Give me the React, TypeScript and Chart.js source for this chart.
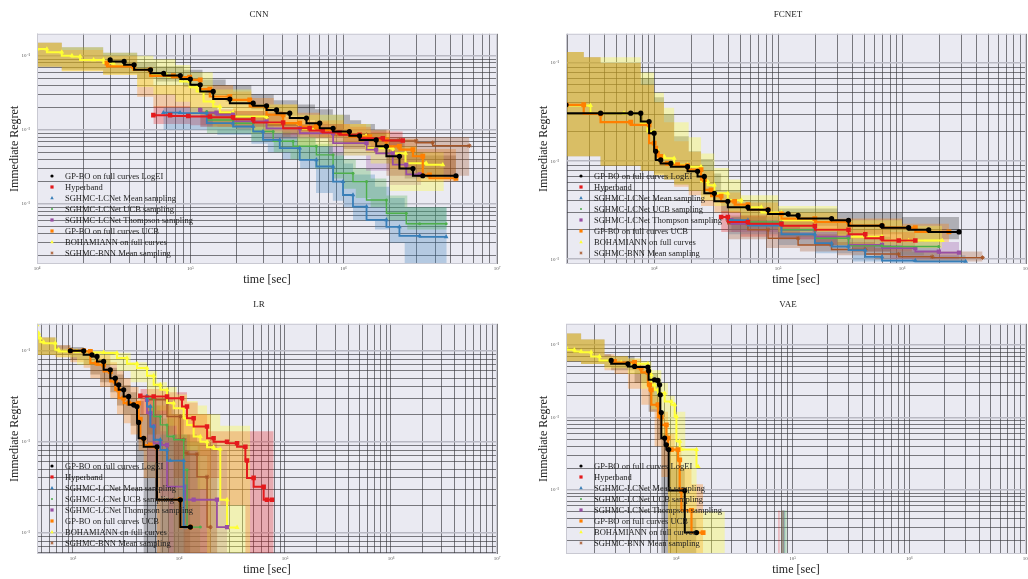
import React, { useEffect, useRef } from 'react';
import { Chart, registerables } from 'chart.js';

Chart.register(...registerables);

const FONT = '"Liberation Serif", "Times New Roman", serif';

const SERIES_LABELS = [
  'GP-BO on full curves LogEI',
  'Hyperband',
  'SGHMC-LCNet Mean sampling',
  'SGHMC-LCNet UCB sampling',
  'SGHMC-LCNet Thompson sampling',
  'GP-BO on full curves UCB',
  'BOHAMIANN on full curves',
  'SGHMC-BNN Mean sampling',
];
const SERIES_COLORS = ['#000000', '#e41a1c', '#377eb8', '#4daf4a', '#984ea3', '#ff7f00', '#ffff33', '#a65628'];
const SERIES_MARKERS = ['circle', 'rect', 'triangle', 'circle', 'rect', 'rect', 'triangle', 'star'];
const SERIES_RADII = [2.6, 3.2, 2.7, 1.5, 3.0, 3.4, 2.9, 2.2];
const LINE_WIDTHS = [2, 2, 1.8, 1.4, 1.8, 2.2, 2, 1.4];
const BAND_ALPHA = [0.25, 0.3, 0.3, 0.3, 0.3, 0.3, 0.32, 0.3];

type Run = { t: number[]; y: number[]; bt: number[]; lo: number[]; hi: number[] };

// ---------------- CNN ----------------
const CNN_LOGEI: Run = {
  t: [3.0e4, 3.7e4, 4.3e4, 5.5e4, 6.7e4, 8.6e4, 1.0e5, 1.16e5, 1.41e5, 1.81e5, 2.57e5, 3.14e5, 3.65e5, 4.45e5, 5.72e5, 6.98e5, 8.53e5, 1.09e6, 1.27e6, 1.63e6, 1.9e6, 2.31e6, 2.83e6, 3.28e6, 5.4e6],
  y: [0.088, 0.084, 0.0755, 0.0647, 0.058, 0.054, 0.0484, 0.0406, 0.033, 0.026, 0.0229, 0.0211, 0.0186, 0.0168, 0.0144, 0.0123, 0.0105, 0.0095, 0.0083, 0.0073, 0.006, 0.0044, 0.003, 0.0024, 0.0024],
  bt: [1e4, 1.45e4, 2.7e4, 4.5e4, 6e4, 9e4, 1.2e5, 1.7e5, 2.5e5, 3.5e5, 5e5, 6.5e5, 8.5e5, 1.1e6, 1.3e6, 1.6e6, 1.9e6, 2.5e6, 3.3e6, 5.4e6],
  hi: [0.168, 0.15, 0.13, 0.11, 0.08, 0.072, 0.065, 0.048, 0.04, 0.03, 0.025, 0.022, 0.019, 0.016, 0.0135, 0.012, 0.01, 0.0075, 0.005, 0.0045],
  lo: [0.083, 0.071, 0.065, 0.057, 0.05, 0.045, 0.038, 0.03, 0.024, 0.019, 0.0155, 0.0135, 0.0115, 0.0095, 0.0082, 0.007, 0.0058, 0.0035, 0.0022, 0.0022],
};
const CNN_HB: Run = {
  t: [5.74e4, 7.38e4, 9.7e4, 1.34e5, 1.9e5, 2.57e5, 4.03e5, 6.0e5, 7.3e5, 9.4e5, 1.27e6, 1.8e6, 2.43e6],
  y: [0.0158, 0.0158, 0.0154, 0.0151, 0.0148, 0.0139, 0.0126, 0.0105, 0.0098, 0.0092, 0.0086, 0.0077, 0.0072],
  bt: [5.74e4, 1e5, 1.5e5, 2e5, 3e5, 4e5, 6e5, 8e5, 1.1e6, 1.5e6, 2.43e6],
  hi: [0.021, 0.021, 0.02, 0.019, 0.018, 0.017, 0.015, 0.013, 0.012, 0.011, 0.0095],
  lo: [0.012, 0.012, 0.0115, 0.011, 0.0102, 0.0095, 0.0085, 0.0078, 0.007, 0.0065, 0.006],
};
const CNN_MEAN: Run = {
  t: [6.67e4, 8.57e4, 1.28e5, 1.9e5, 2.57e5, 2.98e5, 3.83e5, 5.17e5, 6.64e5, 8.53e5, 9.9e5, 1.15e6, 1.41e6, 1.9e6, 2.31e6, 3.13e6, 4.66e6],
  y: [0.0171, 0.0171, 0.0168, 0.0123, 0.0111, 0.0095, 0.0073, 0.00565, 0.00394, 0.0032, 0.002, 0.00132, 0.00092, 0.00061, 0.00049, 0.00037, 0.00036],
  bt: [6.67e4, 1.5e5, 2.5e5, 3.2e5, 4e5, 5.2e5, 6.6e5, 8.5e5, 1.0e6, 1.15e6, 1.6e6, 2.0e6, 2.5e6, 3.0e6, 4.7e6],
  hi: [0.023, 0.02, 0.016, 0.013, 0.011, 0.0095, 0.008, 0.006, 0.0045, 0.0035, 0.0025, 0.0017, 0.0012, 0.0009, 0.0009],
  lo: [0.013, 0.01, 0.0085, 0.0065, 0.005, 0.004, 0.003, 0.0014, 0.0011, 0.0009, 0.0006, 0.00045, 0.0003, 0.0001, 0.0001],
};
const CNN_UCB: Run = {
  t: [1.28e5, 1.9e5, 2.57e5, 3.47e5, 4.68e5, 6.64e5, 8.53e5, 1.15e6, 1.41e6, 1.9e6, 2.56e6, 3.13e6, 4.66e6],
  y: [0.0177, 0.0136, 0.0123, 0.0095, 0.007, 0.006, 0.0046, 0.0026, 0.002, 0.00113, 0.00075, 0.00054, 0.00054],
  bt: [1.28e5, 2.5e5, 3.5e5, 4.5e5, 6.5e5, 8.5e5, 1.0e6, 1.2e6, 1.5e6, 1.9e6, 2.6e6, 3.2e6, 4.7e6],
  hi: [0.022, 0.016, 0.012, 0.0095, 0.008, 0.0065, 0.005, 0.004, 0.003, 0.0022, 0.0013, 0.0009, 0.0009],
  lo: [0.014, 0.009, 0.007, 0.005, 0.004, 0.003, 0.0022, 0.0016, 0.0012, 0.0009, 0.0006, 0.00045, 0.00045],
};
const CNN_TS: Run = {
  t: [1.16e5, 1.48e5, 1.9e5, 3.14e5, 5.17e5, 8.53e5, 1.41e6, 1.63e6, 2.09e6, 2.56e6, 3.13e6],
  y: [0.0186, 0.0171, 0.016, 0.013, 0.0105, 0.009, 0.0066, 0.0054, 0.0048, 0.0034, 0.0025],
  bt: [1.16e5, 3e5, 8e5, 1.4e6, 2e6, 3.2e6],
  hi: [0.02, 0.016, 0.0115, 0.0085, 0.006, 0.0045],
  lo: [0.014, 0.011, 0.0075, 0.0045, 0.0028, 0.0018],
};
const CNN_UCBGP: Run = {
  t: [2.86e4, 4.26e4, 5.47e4, 7.74e4, 9.9e4, 1.16e5, 1.34e5, 1.81e5, 2.44e5, 3.14e5, 4.03e5, 5.17e5, 6.64e5, 8.53e5, 1.09e6, 1.48e6, 1.9e6, 2.31e6, 2.83e6, 3.28e6, 3.63e6, 5.4e6],
  y: [0.0796, 0.0718, 0.0647, 0.0537, 0.0515, 0.0474, 0.0355, 0.0282, 0.0254, 0.0207, 0.016, 0.0123, 0.0111, 0.01, 0.009, 0.0081, 0.0073, 0.006, 0.0054, 0.0044, 0.00247, 0.00222],
  bt: [1e4, 1.45e4, 2.7e4, 4.5e4, 5.74e4, 1.9e5, 2.5e5, 3.5e5, 5e5, 7e5, 1e6, 1.4e6, 2e6, 3e6, 4e6, 5.4e6],
  hi: [0.168, 0.15, 0.12, 0.1, 0.062, 0.04, 0.033, 0.027, 0.022, 0.017, 0.0135, 0.012, 0.01, 0.0075, 0.0055, 0.0055],
  lo: [0.083, 0.071, 0.062, 0.055, 0.028, 0.02, 0.016, 0.013, 0.011, 0.0095, 0.008, 0.0065, 0.005, 0.003, 0.002, 0.002],
};
const CNN_BOH: Run = {
  t: [1.0e4, 1.16e4, 1.45e4, 1.69e4, 1.91e4, 2.34e4, 2.71e4, 3.15e4, 4.26e4, 5.47e4, 7.0e4, 8.57e4, 9.9e4, 1.1e5, 1.22e5, 1.41e5, 1.56e5, 1.9e5, 3.14e5, 5.1e5, 8.5e5, 1.09e6, 1.4e6, 2.09e6, 2.53e6, 3.45e6, 4.43e6],
  y: [0.123, 0.123, 0.112, 0.1, 0.098, 0.088, 0.088, 0.0796, 0.0733, 0.0647, 0.0553, 0.0525, 0.045, 0.0377, 0.033, 0.0241, 0.0207, 0.0173, 0.0151, 0.0123, 0.0102, 0.009, 0.0083, 0.00565, 0.00484, 0.00355, 0.00337],
  bt: [1e4, 1.45e4, 2.7e4, 4.5e4, 5.74e4, 8e4, 1.0e5, 1.4e5, 2.5e5, 5e5, 1e6, 1.5e6, 2e6, 3e6, 4.5e6],
  hi: [0.168, 0.15, 0.13, 0.11, 0.1, 0.09, 0.075, 0.06, 0.035, 0.022, 0.016, 0.012, 0.009, 0.006, 0.005],
  lo: [0.083, 0.071, 0.062, 0.055, 0.038, 0.03, 0.024, 0.016, 0.011, 0.009, 0.006, 0.0045, 0.0035, 0.0015, 0.0015],
};
const CNN_BNN: Run = {
  t: [1.16e5, 1.9e5, 3.14e5, 5.17e5, 8.53e5, 1.41e6, 2.31e6, 2.97e6, 3.81e6, 6.6e6],
  y: [0.0186, 0.0168, 0.0151, 0.0117, 0.01, 0.0086, 0.0073, 0.0071, 0.0067, 0.0061],
  bt: [1.16e5, 4e5, 1e6, 1.9e6, 2.31e6, 6.6e6],
  hi: [0.023, 0.018, 0.012, 0.009, 0.008, 0.008],
  lo: [0.015, 0.011, 0.008, 0.0055, 0.0024, 0.0024],
};

// ---------------- FCNET ----------------
const FC_LOGEI: Run = {
  t: [1945, 3697, 6471, 7798, 9107, 1e4, 1.03e4, 1.13e4, 1.365e4, 1.86e4, 2.24e4, 2.54e4, 3.06e4, 3.93e4, 5.71e4, 8.3e4, 1.205e5, 1.45e5, 2.7e5, 3.7e5, 6.89e5, 1.13e6, 1.64e6, 2.88e6],
  y: [0.0376, 0.0309, 0.0309, 0.0309, 0.0254, 0.0193, 0.0126, 0.0103, 0.0095, 0.0088, 0.0079, 0.007, 0.0047, 0.0039, 0.0034, 0.0032, 0.0029, 0.0028, 0.0026, 0.0025, 0.0022, 0.0021, 0.002, 0.0019],
  bt: [1945, 2704, 3697, 7798, 1e4, 1.2e4, 1.45e4, 1.9e4, 2.39e4, 3.0e4, 3.47e4, 5e4, 1e5, 3e5, 1e6, 2.88e6],
  hi: [0.15, 0.13, 0.115, 0.1, 0.07, 0.045, 0.03, 0.018, 0.0126, 0.0105, 0.0075, 0.005, 0.004, 0.0033, 0.003, 0.0027],
  lo: [0.017, 0.0112, 0.0112, 0.009, 0.008, 0.0075, 0.0065, 0.0058, 0.005, 0.0045, 0.004, 0.003, 0.0025, 0.0022, 0.0018, 0.0016],
};
const FC_HB: Run = {
  t: [3.47e4, 3.93e4, 5.71e4, 1.064e5, 1.98e5, 3.7e5, 5.05e5, 6.89e5, 9.4e5, 1.28e6],
  y: [0.0027, 0.0027, 0.0024, 0.0023, 0.0022, 0.002, 0.0018, 0.00164, 0.00155, 0.00155],
  bt: [3.47e4, 5e4, 1e5, 2e5, 4e5, 8e5, 1.28e6],
  hi: [0.0034, 0.0031, 0.0028, 0.0026, 0.0024, 0.002, 0.0019],
  lo: [0.002, 0.0019, 0.0017, 0.0016, 0.0014, 0.0012, 0.0012],
};
const FC_MEAN: Run = {
  t: [3.93e4, 5.71e4, 1.064e5, 1.98e5, 2.7e5, 3.7e5, 5.05e5, 6.89e5, 1.28e6, 3.26e6],
  y: [0.0026, 0.0025, 0.0022, 0.0018, 0.00146, 0.00135, 0.00124, 0.00106, 0.00097, 0.00095],
  bt: [3.93e4, 1e5, 2e5, 4e5, 8e5, 1.5e6, 3.26e6],
  hi: [0.003, 0.0026, 0.0022, 0.0017, 0.0014, 0.0012, 0.0011],
  lo: [0.0022, 0.0018, 0.0014, 0.00115, 0.00095, 0.0009, 0.0009],
};
const FC_UCB: Run = {
  t: [4.19e4, 1.064e5, 1.98e5, 3.7e5, 6.89e5, 1.98e6],
  y: [0.0025, 0.0024, 0.002, 0.00164, 0.00137, 0.00135],
  bt: [4.19e4, 1e5, 2e5, 4e5, 8e5, 1.98e6],
  hi: [0.003, 0.0027, 0.0024, 0.002, 0.0017, 0.0016],
  lo: [0.0021, 0.002, 0.0017, 0.0014, 0.0012, 0.0011],
};
const FC_TS: Run = {
  t: [4.19e4, 1.064e5, 1.98e5, 3.7e5, 6.89e5, 1.28e6, 1.98e6, 2.88e6],
  y: [0.0025, 0.0023, 0.002, 0.0017, 0.0014, 0.0013, 0.0012, 0.00117],
  bt: [4.19e4, 1e5, 2e5, 4e5, 8e5, 1.5e6, 2.88e6],
  hi: [0.003, 0.0027, 0.0024, 0.002, 0.0017, 0.0016, 0.0015],
  lo: [0.0021, 0.0019, 0.0016, 0.0014, 0.0012, 0.001, 0.001],
};
const FC_UCBGP: Run = {
  t: [1945, 2704, 3697, 6471, 9107, 1e4, 1.03e4, 1.064e4, 1.13e4, 1.28e4, 1.545e4, 1.86e4, 2.39e4, 2.54e4, 2.88e4, 3.47e4, 4.46e4, 5.71e4, 8.3e4, 1.064e5, 1.98e5, 3.7e5, 6.89e5, 1.28e6, 2.39e6],
  y: [0.0376, 0.0376, 0.0304, 0.025, 0.0235, 0.0153, 0.0136, 0.0121, 0.0112, 0.0095, 0.0092, 0.009, 0.0082, 0.0065, 0.0051, 0.0044, 0.0039, 0.0036, 0.0032, 0.0029, 0.0026, 0.0024, 0.0022, 0.0021, 0.0019],
  bt: [1945, 2704, 3697, 7798, 1e4, 1.2e4, 1.45e4, 1.9e4, 2.39e4, 3.06e4, 5e4, 1e5, 3e5, 1e6, 2.39e6],
  hi: [0.15, 0.13, 0.115, 0.1, 0.06, 0.04, 0.025, 0.016, 0.0125, 0.008, 0.0048, 0.0038, 0.003, 0.0026, 0.0023],
  lo: [0.017, 0.0112, 0.0112, 0.009, 0.008, 0.0072, 0.0065, 0.0055, 0.0045, 0.0035, 0.003, 0.0024, 0.002, 0.0016, 0.0015],
};
const FC_BOH: Run = {
  t: [1945, 3062, 3697, 5714, 7798, 8830, 1e4, 1.064e4, 1.205e4, 1.45e4, 1.86e4, 2.39e4, 2.71e4, 3.06e4, 3.93e4, 5.05e4, 7.33e4, 1.064e5, 1.98e5, 3.7e5, 6.89e5, 1.13e6, 2.11e6],
  y: [0.0376, 0.037, 0.0309, 0.0309, 0.0309, 0.0244, 0.0201, 0.0131, 0.0112, 0.0107, 0.0092, 0.0088, 0.0062, 0.0057, 0.0047, 0.004, 0.0034, 0.003, 0.0025, 0.002, 0.0017, 0.00155, 0.00155],
  bt: [1945, 2704, 3697, 7798, 1e4, 1.2e4, 1.45e4, 1.9e4, 2.39e4, 3.06e4, 4e4, 5e4, 1e5, 3e5, 1e6, 2.11e6],
  hi: [0.15, 0.13, 0.115, 0.115, 0.08, 0.05, 0.035, 0.025, 0.0175, 0.012, 0.0085, 0.0065, 0.0045, 0.0035, 0.0025, 0.0022],
  lo: [0.0172, 0.0112, 0.0112, 0.009, 0.008, 0.0072, 0.0065, 0.0058, 0.005, 0.004, 0.0035, 0.003, 0.0025, 0.0019, 0.0014, 0.0013],
};
const FC_BNN: Run = {
  t: [3.93e4, 5.71e4, 8.3e4, 1.45e5, 2.7e5, 5.05e5, 9.4e5, 1.75e6, 4.46e6],
  y: [0.0025, 0.0023, 0.002, 0.00164, 0.0014, 0.00126, 0.00113, 0.00106, 0.00104],
  bt: [3.93e4, 8e4, 1.5e5, 3e5, 6e5, 1.2e6, 2e6, 4.46e6],
  hi: [0.0034, 0.0028, 0.0022, 0.0018, 0.0015, 0.0013, 0.0012, 0.0012],
  lo: [0.0019, 0.0016, 0.0013, 0.0012, 0.0011, 0.001, 0.00095, 0.00095],
};

// ---------------- LR ----------------
const LR_LOGEI: Run = {
  t: [944, 1261, 1511, 1684, 1945, 2249, 2506, 2697, 3007, 3350, 3735, 4016, 4160, 4645, 6200, 1.03e4, 1.28e4],
  y: [0.1, 0.1, 0.0904, 0.0866, 0.0763, 0.0618, 0.05, 0.0422, 0.0372, 0.0315, 0.0255, 0.0244, 0.0163, 0.0109, 0.0088, 0.0023, 0.00115],
  bt: [457, 681, 944, 1261, 1459, 1800, 2249, 2600, 3007, 3500, 4016, 4645, 6200, 8500, 1.28e4],
  hi: [0.198, 0.14, 0.115, 0.11, 0.1, 0.09, 0.08, 0.065, 0.055, 0.042, 0.035, 0.028, 0.02, 0.012, 0.012],
  lo: [0.095, 0.09, 0.09, 0.08, 0.07, 0.055, 0.045, 0.035, 0.025, 0.02, 0.015, 0.006, 0.0002, 0.0002, 0.0002],
};
const LR_HB: Run = {
  t: [4315, 5770, 7710, 1.067e4, 1.19e4, 1.375e4, 1.84e4, 2.12e4, 2.84e4, 3.53e4, 4.23e4, 4.38e4, 5.06e4, 6.29e4, 6.76e4, 7.54e4],
  y: [0.032, 0.0315, 0.0315, 0.0301, 0.0244, 0.0181, 0.0147, 0.0109, 0.01, 0.0096, 0.0088, 0.0062, 0.004, 0.0032, 0.0023, 0.0023],
  bt: [4315, 7710, 1.19e4, 1.5e4, 1.84e4, 2.45e4, 4.23e4, 6.29e4, 7.82e4],
  hi: [0.04, 0.038, 0.035, 0.027, 0.02, 0.013, 0.013, 0.013, 0.013],
  lo: [0.022, 0.02, 0.012, 0.009, 0.007, 0.004, 0.002, 0.0002, 0.0002],
};
const LR_MEAN: Run = {
  t: [4989, 5370, 5770, 6670, 7710, 8280, 1.107e4, 1.148e4],
  y: [0.0315, 0.0244, 0.0147, 0.0105, 0.0081, 0.0062, 0.0062, 0.00115],
  bt: [4989, 6670, 8280, 1.148e4],
  hi: [0.034, 0.02, 0.012, 0.012],
  lo: [0.02, 0.004, 0.0002, 0.0002],
};
const LR_UCB: Run = {
  t: [4989, 5770, 6670, 7710, 8910, 1.107e4, 1.19e4, 1.59e4],
  y: [0.0315, 0.0301, 0.0189, 0.0153, 0.0114, 0.0105, 0.0049, 0.00115],
  bt: [4989, 6670, 8910, 1.19e4, 1.59e4],
  hi: [0.034, 0.025, 0.018, 0.012, 0.01],
  lo: [0.025, 0.012, 0.006, 0.0002, 0.0002],
};
const LR_TS: Run = {
  t: [4989, 5370, 5770, 6670, 7710, 1.148e4, 1.375e4, 2.28e4, 2.84e4],
  y: [0.0289, 0.0206, 0.0147, 0.0096, 0.0092, 0.0032, 0.0023, 0.0023, 0.00115],
  bt: [4989, 6670, 8000, 1.148e4, 2.28e4, 2.84e4],
  hi: [0.035, 0.02, 0.013, 0.011, 0.008, 0.008],
  lo: [0.02, 0.006, 0.0025, 0.0002, 0.0002, 0.0002],
};
const LR_UCBGP: Run = {
  t: [944, 1261, 1459, 1684, 1945, 2249, 2506, 2697, 3007, 3350, 4160, 4315, 4645, 5370, 6200, 1.03e4, 1.28e4],
  y: [0.1, 0.1, 0.0984, 0.0732, 0.0702, 0.0592, 0.046, 0.0372, 0.0301, 0.0266, 0.0266, 0.0177, 0.0109, 0.0092, 0.0087, 0.0023, 0.00115],
  bt: [457, 681, 944, 1261, 1459, 1800, 2249, 2600, 3007, 3500, 4160, 4645, 6200, 8500, 1.28e4, 2.0e4],
  hi: [0.198, 0.14, 0.115, 0.105, 0.1, 0.095, 0.09, 0.075, 0.06, 0.05, 0.04, 0.03, 0.03, 0.025, 0.02, 0.02],
  lo: [0.095, 0.09, 0.085, 0.075, 0.065, 0.05, 0.04, 0.03, 0.02, 0.016, 0.012, 0.008, 0.004, 0.0002, 0.0002, 0.0002],
};
const LR_BOH: Run = {
  t: [457, 474, 492, 528, 681, 732, 1091, 1459, 1945, 2600, 3230, 4016, 4989, 5770, 6670, 7710, 8910, 1.107e4, 1.19e4, 1.375e4, 1.59e4, 1.84e4, 2.12e4, 2.45e4, 2.84e4, 3.53e4],
  y: [0.193, 0.156, 0.138, 0.1245, 0.1213, 0.1026, 0.0984, 0.0984, 0.0959, 0.0943, 0.0831, 0.072, 0.0645, 0.0531, 0.0422, 0.0372, 0.0266, 0.0234, 0.0181, 0.0153, 0.0114, 0.01, 0.0087, 0.0083, 0.0023, 0.00114],
  bt: [457, 700, 1091, 2600, 3500, 4989, 6200, 7710, 9500, 1.19e4, 1.5e4, 1.84e4, 2.45e4, 3.53e4, 4.7e4],
  hi: [0.198, 0.14, 0.105, 0.1, 0.095, 0.075, 0.06, 0.045, 0.04, 0.033, 0.028, 0.025, 0.02, 0.015, 0.015],
  lo: [0.095, 0.09, 0.085, 0.07, 0.06, 0.045, 0.03, 0.022, 0.015, 0.011, 0.008, 0.003, 0.0002, 0.0002, 0.0002],
};
const LR_BNN: Run = {
  t: [4989, 7710, 1.03e4, 1.107e4, 1.19e4, 1.48e4, 1.84e4, 1.98e4],
  y: [0.0315, 0.0289, 0.0189, 0.0105, 0.0075, 0.0073, 0.0041, 0.00115],
  bt: [4989, 8910, 1.107e4, 1.48e4, 1.98e4, 2.3e4],
  hi: [0.035, 0.03, 0.02, 0.012, 0.01, 0.01],
  lo: [0.025, 0.012, 0.004, 0.0002, 0.0002, 0.0002],
};

// ---------------- VAE ----------------
const VAE_LOGEI: Run = {
  t: [2778, 3866, 4409, 5738, 5817, 6548, 6997, 7228, 7326, 7477, 7984, 8257, 8650, 1.188e4, 1.497e4],
  y: [0.0614, 0.0552, 0.0507, 0.0497, 0.0442, 0.0332, 0.0325, 0.0283, 0.0206, 0.0117, 0.0052, 0.0042, 0.0036, 0.00098, 0.000257],
  bt: [1139, 1534, 2434, 2778, 4409, 5817, 6997, 7477, 8650, 1.188e4, 1.497e4],
  hi: [0.145, 0.145, 0.12, 0.075, 0.07, 0.055, 0.04, 0.03, 0.006, 0.002, 0.0004],
  lo: [0.06, 0.06, 0.055, 0.05, 0.045, 0.03, 0.012, 0.005, 0.0001, 0.0001, 0.0001],
};
const VAE_HB: Run = { t: [], y: [], bt: [7.5e4, 7.75e4], hi: [0.00052, 0.00052], lo: [0.0001, 0.0001] };
const VAE_MEAN: Run = { t: [], y: [], bt: [8.0e4, 8.6e4], hi: [0.00052, 0.00052], lo: [0.0001, 0.0001] };
const VAE_UCB: Run = { t: [], y: [], bt: [8.1e4, 8.9e4], hi: [0.00052, 0.00052], lo: [0.0001, 0.0001] };
const VAE_TS: Run = { t: [], y: [], bt: [8.2e4, 8.5e4], hi: [0.00052, 0.00052], lo: [0.0001, 0.0001] };
const VAE_UCBGP: Run = {
  t: [2966, 4409, 5034, 5738, 5930, 6136, 6997, 7477, 8257, 8530, 9115, 1.04e4, 1.075e4, 1.111e4, 1.356e4, 1.707e4],
  y: [0.0594, 0.0575, 0.0481, 0.0419, 0.0283, 0.0241, 0.015, 0.0101, 0.0079, 0.0052, 0.0036, 0.0036, 0.0026, 0.00098, 0.00052, 0.000257],
  bt: [1139, 1534, 2434, 2966, 3866, 5034, 5930, 6548, 7477, 8530, 9740, 1.111e4, 1.356e4, 1.707e4],
  hi: [0.145, 0.145, 0.12, 0.075, 0.07, 0.065, 0.05, 0.035, 0.02, 0.012, 0.006, 0.004, 0.002, 0.0012],
  lo: [0.06, 0.06, 0.055, 0.045, 0.04, 0.025, 0.015, 0.012, 0.004, 0.0015, 0.0001, 0.0001, 0.0001, 0.0001],
};
const VAE_BOH: Run = {
  t: [1139, 1343, 1534, 1871, 2205, 2778, 3388, 4409, 5738, 5930, 6136, 6548, 6997, 7984, 9115, 9740, 1.007e4, 1.075e4, 1.111e4, 1.497e4, 1.546e4],
  y: [0.0938, 0.0861, 0.0817, 0.08, 0.0697, 0.0614, 0.0575, 0.0563, 0.0552, 0.0456, 0.0389, 0.0283, 0.0241, 0.0217, 0.0166, 0.015, 0.0103, 0.0047, 0.0036, 0.0036, 0.0021],
  bt: [1139, 1534, 2434, 3866, 5034, 6136, 7477, 8530, 9740, 1.2e4, 1.5e4, 2.15e4, 2.62e4],
  hi: [0.145, 0.145, 0.12, 0.07, 0.066, 0.06, 0.045, 0.03, 0.02, 0.012, 0.0036, 0.0005, 0.0005],
  lo: [0.06, 0.06, 0.055, 0.048, 0.04, 0.025, 0.013, 0.005, 0.0001, 0.0001, 0.0001, 0.0001, 0.0001],
};
const VAE_BNN: Run = { t: [], y: [], bt: [7.9e4, 8.4e4], hi: [0.00052, 0.00052], lo: [0.0001, 0.0001] };

const PANEL_TITLES = ['CNN', 'FCNET', 'LR', 'VAE'];
const PANEL_RUNS: Run[][] = [
  [CNN_LOGEI, CNN_HB, CNN_MEAN, CNN_UCB, CNN_TS, CNN_UCBGP, CNN_BOH, CNN_BNN],
  [FC_LOGEI, FC_HB, FC_MEAN, FC_UCB, FC_TS, FC_UCBGP, FC_BOH, FC_BNN],
  [LR_LOGEI, LR_HB, LR_MEAN, LR_UCB, LR_TS, LR_UCBGP, LR_BOH, LR_BNN],
  [VAE_LOGEI, VAE_HB, VAE_MEAN, VAE_UCB, VAE_TS, VAE_UCBGP, VAE_BOH, VAE_BNN],
];
const X_MIN = [1e4, 1945, 457.5, 1139];
const X_MAX = [1e7, 1e7, 1e7, 1e7];
const Y_MIN = [1.545e-4, 8.95e-4, 5.82e-4, 1.3e-4];
const Y_MAX = [0.198, 0.199, 0.198, 0.197];

// layout
const PANEL_LEFT = [0, 529, 0, 529];
const PANEL_TOP = [0, 0, 290, 290];
const PANEL_W = 518;
const PANEL_H = 290;

const SUP: Record<string, string> = { '0': '⁰', '1': '¹', '2': '²', '3': '³', '4': '⁴', '5': '⁵', '6': '⁶', '7': '⁷', '8': '⁸', '9': '⁹', '-': '⁻' };

function isPow10(v: number) {
  const l = Math.log10(v);
  return Math.abs(l - Math.round(l)) < 1e-6;
}
function fmtPow(v: number) {
  if (!isPow10(v)) return '';
  const k = Math.round(Math.log10(v));
  return '10' + String(k).split('').map((c) => SUP[c]).join('');
}
function logTicks(min: number, max: number) {
  const out: number[] = [];
  const k0 = Math.floor(Math.log10(min));
  const k1 = Math.ceil(Math.log10(max));
  for (let k = k0; k <= k1; k++) {
    for (let m = 1; m <= 9; m++) {
      const v = parseFloat((m * Math.pow(10, k)).toPrecision(6));
      if (v >= min * 0.999999 && v <= max * 1.000001) out.push(v);
    }
  }
  return out;
}
function withAlpha(hex: string, a: number) {
  const r = parseInt(hex.slice(1, 3), 16);
  const g = parseInt(hex.slice(3, 5), 16);
  const b = parseInt(hex.slice(5, 7), 16);
  return `rgba(${r},${g},${b},${a})`;
}

function drawMarker(ctx: CanvasRenderingContext2D, style: string, x: number, y: number, r: number, color: string) {
  ctx.save();
  ctx.fillStyle = color;
  ctx.strokeStyle = color;
  ctx.lineWidth = 0.8;
  ctx.beginPath();
  if (style === 'circle') {
    ctx.arc(x, y, r, 0, Math.PI * 2);
    ctx.fill();
  } else if (style === 'rect') {
    ctx.rect(x - r, y - r, 2 * r, 2 * r);
    ctx.fill();
  } else if (style === 'triangle') {
    ctx.moveTo(x, y - r * 1.2);
    ctx.lineTo(x + r * 1.1, y + r * 0.8);
    ctx.lineTo(x - r * 1.1, y + r * 0.8);
    ctx.closePath();
    ctx.fill();
  } else {
    for (let i = 0; i < 3; i++) {
      const a = (i * Math.PI) / 3 + Math.PI / 2;
      ctx.moveTo(x + Math.cos(a) * r, y + Math.sin(a) * r);
      ctx.lineTo(x - Math.cos(a) * r, y - Math.sin(a) * r);
    }
    ctx.stroke();
  }
  ctx.restore();
}

const bgPlugin = {
  id: 'plotBg',
  beforeDraw(chart: any) {
    const { ctx, chartArea: a } = chart;
    ctx.save();
    ctx.fillStyle = '#eaeaf2';
    ctx.fillRect(a.left, a.top, a.right - a.left, a.bottom - a.top);
    ctx.restore();
  },
  afterDraw(chart: any) {
    const { ctx, chartArea: a } = chart;
    ctx.save();
    ctx.strokeStyle = '#c9c9d2';
    ctx.lineWidth = 1;
    ctx.strokeRect(a.left + 0.5, a.top + 0.5, a.right - a.left - 1, a.bottom - a.top - 1);
    // legend inside plot, lower left
    ctx.font = `8.5px ${FONT}`;
    ctx.textBaseline = 'middle';
    ctx.textAlign = 'left';
    for (let i = 0; i < SERIES_LABELS.length; i++) {
      const y = a.bottom - 88 + 11 * i;
      drawMarker(ctx, SERIES_MARKERS[i], a.left + 15, y, i === 3 ? 1.0 : 1.6, SERIES_COLORS[i]);
      ctx.fillStyle = '#222';
      ctx.fillText(SERIES_LABELS[i], a.left + 28, y + 0.5);
    }
    ctx.restore();
  },
};

function buildDatasets(runs: Run[]) {
  const ds: any[] = [];
  runs.forEach((run, i) => {
    const c = SERIES_COLORS[i];
    ds.push({
      label: SERIES_LABELS[i] + ' upper',
      data: run.bt.map((t, j) => ({ x: t, y: run.hi[j] })),
      borderColor: 'transparent',
      borderWidth: 0,
      pointRadius: 0,
      stepped: 'after',
      fill: false,
      order: 30 - i,
    });
    ds.push({
      label: SERIES_LABELS[i] + ' lower',
      data: run.bt.map((t, j) => ({ x: t, y: run.lo[j] })),
      borderColor: 'transparent',
      borderWidth: 0,
      pointRadius: 0,
      stepped: 'after',
      fill: '-1',
      backgroundColor: withAlpha(c, BAND_ALPHA[i]),
      order: 30 - i,
    });
    ds.push({
      label: SERIES_LABELS[i],
      data: run.t.map((t, j) => ({ x: t, y: run.y[j] })),
      borderColor: c,
      borderWidth: LINE_WIDTHS[i],
      stepped: 'after',
      fill: false,
      pointStyle: SERIES_MARKERS[i],
      pointRadius: SERIES_RADII[i],
      pointBackgroundColor: c,
      pointBorderColor: c,
      pointBorderWidth: SERIES_MARKERS[i] === 'star' ? 1 : 0,
      order: 1,
    });
  });
  return ds;
}

function gridColor(ctx: any, isY: boolean) {
  const v = ctx.tick && ctx.tick.value;
  if (isY && v && isPow10(v)) return 'rgba(185,185,195,1)';
  return 'rgba(55,55,60,0.72)';
}

function Panel({ idx }: { idx: number }) {
  const ref = useRef<HTMLCanvasElement | null>(null);
  useEffect(() => {
    if (!ref.current) return;
    const xMin = X_MIN[idx], xMax = X_MAX[idx], yMin = Y_MIN[idx], yMax = Y_MAX[idx];
    const chart = new Chart(ref.current, {
      type: 'line',
      data: { datasets: buildDatasets(PANEL_RUNS[idx]) },
      options: {
        responsive: false,
        animation: false,
        devicePixelRatio: 1,
        layout: { padding: { left: 0, right: 0, top: 0, bottom: 0 } },
        plugins: {
          legend: { display: false },
          tooltip: { enabled: false },
          title: {
            display: true,
            text: PANEL_TITLES[idx],
            font: { family: FONT, size: 9, weight: 'normal' },
            color: '#222',
            padding: { top: 9, bottom: 14 },
          },
        },
        scales: {
          x: {
            type: 'logarithmic',
            min: xMin,
            max: xMax,
            afterBuildTicks: (s: any) => {
              s.ticks = logTicks(xMin, xMax).map((v) => ({ value: v }));
            },
            afterFit: (s: any) => {
              s.height = 26;
            },
            border: { display: false },
            grid: { color: (c: any) => gridColor(c, false), lineWidth: 0.9, drawTicks: false },
            ticks: {
              autoSkip: false,
              maxRotation: 0,
              padding: 2,
              font: { family: FONT, size: 5 },
              color: '#555',
              callback: (v: any) => fmtPow(Number(v)),
            },
            title: {
              display: true,
              text: 'time [sec]',
              font: { family: FONT, size: 12 },
              color: '#222',
              padding: { top: 0, bottom: 3 },
            },
          },
          y: {
            type: 'logarithmic',
            min: yMin,
            max: yMax,
            afterBuildTicks: (s: any) => {
              s.ticks = logTicks(yMin, yMax).map((v) => ({ value: v }));
            },
            afterFit: (s: any) => {
              s.width = 37;
            },
            border: { display: false },
            grid: { color: (c: any) => gridColor(c, true), lineWidth: (c: any) => (c.tick && isPow10(c.tick.value) ? 1.6 : 0.9), drawTicks: false },
            ticks: {
              autoSkip: false,
              padding: 7,
              font: { family: FONT, size: 5 },
              color: '#555',
              callback: (v: any) => fmtPow(Number(v)),
            },
            title: {
              display: true,
              text: 'Immediate Regret',
              font: { family: FONT, size: 12 },
              color: '#222',
              padding: { top: 8, bottom: 0 },
            },
          },
          yRight: {
            type: 'linear',
            position: 'right',
            display: true,
            afterFit: (s: any) => {
              s.width = 21;
            },
            border: { display: false },
            grid: { display: false, drawOnChartArea: false, drawTicks: false },
            ticks: { display: false },
          },
        },
      } as any,
      plugins: [bgPlugin],
    });
    return () => chart.destroy();
  }, [idx]);
  return (
    <canvas
      ref={ref}
      width={PANEL_W}
      height={PANEL_H}
      style={{ position: 'absolute', left: PANEL_LEFT[idx], top: PANEL_TOP[idx], width: PANEL_W, height: PANEL_H }}
    />
  );
}

export default function App() {
  return (
    <div style={{ position: 'fixed', left: 0, top: 0, width: 1028, height: 579, overflow: 'hidden', background: '#ffffff' }}>
      {[0, 1, 2, 3].map((i) => (
        <Panel key={i} idx={i} />
      ))}
    </div>
  );
}
